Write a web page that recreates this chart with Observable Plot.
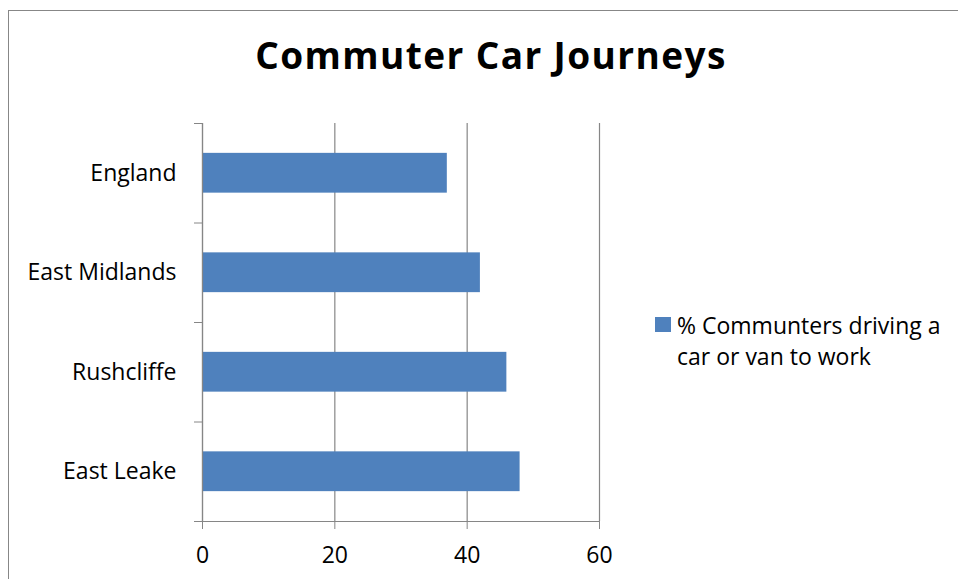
<!DOCTYPE html>
<html><head><meta charset="utf-8">
<script src="https://cdn.jsdelivr.net/npm/d3@7"></script>
<script src="https://cdn.jsdelivr.net/npm/@observablehq/plot@0.6"></script>
<style>
body{margin:0;background:#fff;}
#wrap{position:relative;width:958px;height:579px;overflow:hidden;font-family:"Open Sans",sans-serif;color:#000;}
#frame{position:absolute;left:8px;top:10px;width:1000px;height:1000px;border:1.5px solid #878787;box-sizing:border-box;}
#title{position:absolute;left:0;width:982px;top:30px;text-align:center;font-weight:bold;font-size:37px;line-height:50px;letter-spacing:1.4px;white-space:nowrap;}
#chart{position:absolute;left:0;top:0;}
#legend{position:absolute;left:655px;top:310px;font-size:23px;line-height:31px;}
#legend .sw{position:absolute;left:0;top:7px;width:16px;height:15px;background:#4F81BD;}
#legend .tx{position:absolute;left:22px;top:0;width:275px;}
</style></head>
<body>
<div id="wrap">
  <div id="frame"></div>
  <div id="chart"></div>
  <div id="title"></div>
  <div id="legend"><div class="sw"></div><div class="tx"></div></div>
</div>
<script>
const title = "Commuter Car Journeys";
const categories = ["England", "East Midlands", "Rushcliffe", "East Leake"];
const values = [37, 42, 46, 48];
const xTicks = [0, 20, 40, 60];
const seriesName = "% Communters driving a car or van to work";
const barColor = "#4F81BD";

document.getElementById("title").textContent = title;
document.querySelector("#legend .tx").textContent = seriesName;

const data = categories.map((c, i) => ({category: c, index: i, value: values[i]}));
const bounds = d3.range(categories.length + 1);
const centers = categories.map((c, i) => i + 0.5);
const gray = "#868686";

const chart = Plot.plot({
  width: 958,
  height: 579,
  marginLeft: 202,
  marginRight: 359,
  marginTop: 123,
  marginBottom: 58,
  style: {fontFamily: "'Open Sans', sans-serif", fontSize: "23px", color: "#000", background: "transparent"},
  x: {domain: [0, 60]},
  y: {domain: [0, categories.length], reverse: true},
  marks: [
    Plot.gridX(xTicks, {stroke: gray, strokeOpacity: 1, strokeWidth: 1.2}),
    Plot.rect(data, {x1: 0, x2: "value", y1: d => d.index + 0.3, y2: d => d.index + 0.7, fill: barColor}),
    Plot.ruleX([0], {stroke: gray, strokeWidth: 1.2}),
    Plot.ruleY([categories.length], {stroke: gray, strokeWidth: 1.2}),
    Plot.axisX(xTicks, {tickSize: 8, tickPadding: 17, stroke: gray, fill: "#000", fontSize: 23, label: null}),
    Plot.axisY(bounds, {tickSize: 8, stroke: gray, tickFormat: () => "", label: null}),
    Plot.axisY(centers, {tickSize: 0, tickPadding: 26, fill: "#000", fontSize: 23, tickFormat: v => categories[Math.round(v - 0.5)], label: null})
  ]
});
document.getElementById("chart").appendChild(chart);
</script>
</body></html>
